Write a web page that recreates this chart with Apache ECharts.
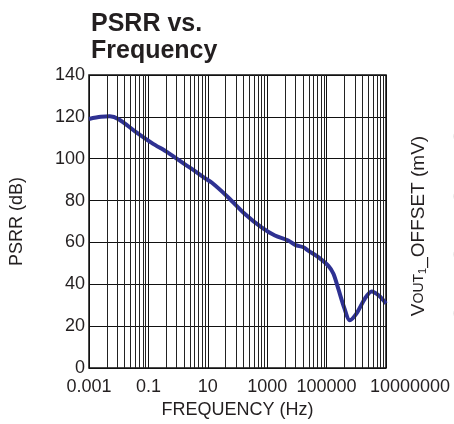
<!DOCTYPE html>
<html>
<head>
<meta charset="utf-8">
<script src="https://cdn.jsdelivr.net/npm/echarts@6/dist/echarts.min.js"></script>
<style>
  html, body { margin: 0; padding: 0; background: #fff; }
  #chart { width: 454px; height: 424px; }
</style>
</head>
<body>
<div id="chart"></div>
<script>
// x positions are log10 of the labelled frequency (0.001 -> -3 ... 10000000 -> 7)
var logFreq = [-3.0, -2.6, -2.3, -2.0, -1.45, -0.89, -0.33, 0.23, 0.57, 0.85, 1.13, 1.69, 2.25, 2.81, 3.26, 3.71, 3.94, 4.22, 4.38, 4.72, 5.06, 5.23, 5.39, 5.6, 5.78, 6.01, 6.29, 6.52, 6.76, 7.0];
var psrr    = [119.0, 120.0, 120.3, 118.9, 113.1, 107.6, 102.8, 97.3, 94.1, 91.2, 88.6, 81.5, 73.6, 67.2, 63.3, 60.9, 58.8, 57.7, 56.1, 53.0, 48.8, 45.0, 38.0, 28.5, 22.8, 26.1, 33.2, 36.6, 34.6, 30.8];
var xTickLabels = ['0.001', '0.1', '10', '1000', '100000', '10000000'];
var yTicks = [0, 20, 40, 60, 80, 100, 120, 140];
// right side: tick marks of a neighbouring chart, cut by the image border
var cutLabelY = [138, 198, 256, 315];

var chart = echarts.init(document.getElementById('chart'));

var points = [];
for (var i = 0; i < logFreq.length; i++) points.push([logFreq[i], psrr[i]]);

// grid lines between majors (majors are 2 decades apart, 8 lines in between)
var minorLines = [];
for (var m = -3; m < 7; m += 2) {
    for (var k = 2; k <= 9; k++) {
        minorLines.push({ xAxis: m + 2 * Math.log10(k) });
    }
}

var textColor = '#231f20';
var graphics = [{
    type: 'text',
    x: 419,
    y: 226,
    rotation: Math.PI / 2,
    style: {
        text: '{v|V}{s|OUT}{n|1}{t|_OFFSET (mV)}',
        align: 'center',
        verticalAlign: 'middle',
        fill: textColor,
        rich: {
            v: { fontSize: 19, fontFamily: 'Liberation Sans', fill: textColor },
            s: { fontSize: 14, fontFamily: 'Liberation Sans', fill: textColor },
            n: { fontSize: 11, fontFamily: 'Liberation Sans', fill: textColor, verticalAlign: 'bottom' },
            t: { fontSize: 19, fontFamily: 'Liberation Sans', fill: textColor }
        }
    }
}];
cutLabelY.forEach(function(y){
    graphics.push({
        type: 'text', x: 453, y: y,
        style: { text: '0', fontSize: 18, fontFamily: 'Liberation Sans', fill: '#bbb', verticalAlign: 'middle' }
    });
});

var option = {
    animation: false,
    backgroundColor: '#fff',
    textStyle: { fontFamily: 'Liberation Sans' },
    title: {
        text: 'PSRR vs.\nFrequency',
        left: 86,
        top: 6,
        textStyle: {
            fontSize: 25,
            fontWeight: 'bold',
            lineHeight: 27,
            color: textColor,
            fontFamily: 'Liberation Sans'
        }
    },
    grid: {
        left: 89,
        right: 68,
        top: 75,
        bottom: 54,
        show: true,
        borderColor: '#111',
        borderWidth: 1.5,
        containLabel: false
    },
    xAxis: {
        type: 'value',
        min: -3,
        max: 7,
        interval: 2,
        name: 'FREQUENCY (Hz)',
        nameLocation: 'middle',
        nameGap: 33,
        nameTextStyle: { fontSize: 18, color: textColor },
        axisLine: { show: false },
        axisTick: { show: false },
        axisLabel: {
            fontSize: 18,
            color: textColor,
            margin: 10,
            hideOverlap: false,
            showMinLabel: true,
            showMaxLabel: true,
            formatter: function(v){
                var idx = Math.round((v + 3) / 2);
                return idx === xTickLabels.length - 1 ? '{last|' + xTickLabels[idx] + '}' : xTickLabels[idx];
            },
            rich: {
                last: { fontSize: 18, color: textColor, padding: [0, 0, 0, 48] }
            }
        },
        splitLine: { show: true, lineStyle: { color: '#111', width: 1 } }
    },
    yAxis: {
        type: 'value',
        min: 0,
        max: 140,
        interval: 20,
        name: 'PSRR (dB)',
        nameLocation: 'middle',
        nameGap: 63,
        nameTextStyle: { fontSize: 18, color: textColor },
        axisLine: { show: false },
        axisTick: { show: false },
        axisLabel: {
            fontSize: 18,
            color: textColor,
            margin: 4,
            formatter: function(v){ return yTicks.indexOf(v) >= 0 ? String(v) : ''; }
        },
        splitLine: { show: true, lineStyle: { color: '#111', width: 1 } }
    },
    series: [
        {
            name: 'grid',
            type: 'line',
            data: [],
            z: 1,
            silent: true,
            markLine: {
                silent: true,
                symbol: ['none', 'none'],
                label: { show: false },
                lineStyle: { color: '#222', width: 1, type: 'solid' },
                data: minorLines
            }
        },
        {
            name: 'PSRR',
            type: 'line',
            data: points,
            z: 3,
            smooth: 0.3,
            showSymbol: false,
            lineStyle: { color: '#2e3192', width: 4 },
            itemStyle: { color: '#2e3192' }
        }
    ],
    graphic: graphics
};
chart.setOption(option);

window.onresize = function(){
    chart.resize();
};
</script>
</body>
</html>
